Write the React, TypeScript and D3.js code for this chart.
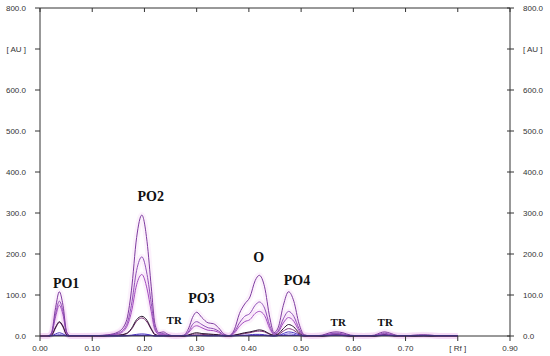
import React from "react";
import * as d3 from "d3";

// Rf sampling grid shared by all traces
const rfGrid = [
  0.0, 0.015, 0.022, 0.03, 0.037, 0.044, 0.051, 0.058, 0.08, 0.11,
  0.13, 0.15, 0.165, 0.175, 0.185, 0.195, 0.205, 0.213, 0.22, 0.228,
  0.236, 0.245, 0.26, 0.275, 0.285, 0.292, 0.3, 0.31, 0.322, 0.332,
  0.342, 0.352, 0.362, 0.372, 0.382, 0.392, 0.402, 0.412, 0.42, 0.43,
  0.44, 0.448, 0.456, 0.466, 0.476, 0.486, 0.496, 0.506, 0.52, 0.54,
  0.555, 0.567, 0.58, 0.595, 0.62, 0.64, 0.652, 0.66, 0.67, 0.685,
  0.7, 0.715, 0.735, 0.75, 0.765, 0.8,
];

const trace1 = [
  0, 0, 8, 70, 108, 75, 10, 0, 0, 1,
  3, 10, 35, 110, 240, 295, 230, 120, 30, 8,
  10, 4, 0, 2, 20, 45, 58, 45, 32, 30,
  20, 5, 1, 15, 55, 78, 95, 135, 148, 120,
  45, 8, 20, 75, 108, 85, 30, 3, 0, 2,
  8, 10, 8, 2, 0, 2, 8, 10, 7, 1,
  0, 2, 3, 2, 0, 0,
];
const trace2 = [
  0, 0, 6, 55, 85, 60, 8, 0, 0, 1,
  2, 7, 25, 75, 160, 193, 150, 80, 20, 5,
  6, 2, 0, 1, 12, 28, 35, 28, 20, 18,
  12, 3, 1, 10, 32, 48, 55, 75, 83, 68,
  25, 5, 12, 42, 60, 48, 18, 2, 0, 1,
  5, 7, 5, 1, 0, 1, 5, 7, 4, 1,
  0, 1, 2, 1, 0, 0,
];
const trace3 = [
  0, 0, 5, 48, 75, 52, 7, 0, 0, 0,
  2, 5, 20, 58, 125, 150, 115, 60, 15, 4,
  4, 1, 0, 1, 9, 20, 25, 20, 14, 13,
  9, 2, 0, 7, 24, 35, 40, 55, 60, 50,
  18, 4, 9, 32, 45, 36, 13, 1, 0, 1,
  4, 5, 4, 1, 0, 1, 4, 5, 3, 0,
  0, 1, 1, 1, 0, 0,
];
const trace4 = [
  0, 0, 2, 22, 35, 24, 3, 0, 0, 0,
  1, 2, 6, 18, 40, 48, 38, 18, 4, 1,
  2, 1, 0, 0, 3, 6, 8, 6, 5, 4,
  3, 1, 0, 2, 5, 8, 10, 13, 15, 12,
  5, 2, 5, 18, 28, 22, 8, 1, 0, 0,
  2, 3, 2, 0, 0, 0, 2, 3, 2, 0,
  0, 0, 1, 0, 0, 0,
];
const trace5 = [
  0, 0, 2, 20, 33, 22, 3, 0, 0, 0,
  1, 2, 5, 16, 36, 44, 34, 16, 3, 1,
  1, 0, 0, 0, 2, 4, 5, 4, 3, 3,
  2, 1, 0, 2, 4, 6, 8, 11, 12, 10,
  4, 1, 3, 12, 18, 14, 5, 0, 0, 0,
  1, 2, 1, 0, 0, 0, 1, 2, 1, 0,
  0, 0, 0, 0, 0, 0,
];
const trace6 = [
  0, 0, 1, 5, 8, 5, 1, 0, 0, 0,
  0, 0, 1, 2, 4, 5, 4, 2, 0, 0,
  0, 0, 0, 0, 1, 1, 2, 1, 1, 1,
  1, 0, 0, 1, 2, 2, 3, 4, 4, 3,
  1, 0, 1, 6, 10, 8, 3, 0, 0, 0,
  3, 5, 3, 0, 0, 0, 3, 4, 2, 0,
  0, 0, 1, 0, 0, 0,
];
const trace7 = [
  0, 0, 0, 2, 3, 2, 0, 0, 0, 0,
  0, 0, 0, 1, 2, 2, 2, 1, 0, 0,
  0, 0, 0, 0, 0, 1, 1, 1, 0, 0,
  0, 0, 0, 0, 1, 1, 1, 2, 2, 1,
  0, 0, 1, 3, 5, 4, 1, 0, 0, 0,
  1, 2, 1, 0, 0, 0, 1, 2, 1, 0,
  0, 0, 0, 0, 0, 0,
];

const traces = [trace7, trace6, trace5, trace4, trace3, trace2, trace1];
const traceColors = ["#6a50d8", "#4a32c0", "#7a2c72", "#2a1430", "#a34cc0", "#9050b8", "#7e3ca0"];

const xTicks = [0, 0.1, 0.2, 0.3, 0.4, 0.5, 0.6, 0.7, 0.8, 0.9];
const xTickLabels = ["0.00", "0.10", "0.20", "0.30", "0.40", "0.50", "0.60", "0.70", "[ Rf ]", "0.90"];
const yTicks = [0, 100, 200, 300, 400, 500, 600, 700, 800];
const yTickLabels = ["0.0", "100.0", "200.0", "300.0", "400.0", "500.0", "600.0", "[ AU ]", "800.0"];

const peakLabels = ["PO1", "PO2", "TR", "PO3", "O", "PO4", "TR", "TR"];
const peakRf = [0.05, 0.212, 0.257, 0.309, 0.419, 0.492, 0.571, 0.661];
const peakValue = [118, 330, 30, 80, 180, 125, 24, 25];
const peakBig = [true, true, false, true, true, true, false, false];

export default function App() {
  const W = 550;
  const H = 356;
  const x = d3.scaleLinear().domain([0, 0.9]).range([40, 510]);
  const y = d3.scaleLinear().domain([0, 800]).range([336, 8]);

  const line = d3
    .line<number>()
    .x((_, i) => x(rfGrid[i]))
    .y((d) => y(d))
    .curve(d3.curveMonotoneX);

  const axisColor = "#333";
  const tickFont = { fontFamily: "Liberation Sans, Arial, sans-serif", fontSize: 8, fill: "#333" };

  return (
    <svg width={W} height={H} style={{ position: "absolute", left: 0, top: 0, background: "#fff" }}>
      <rect x={0} y={0} width={W} height={H} fill="#fff" />
      {/* glow */}
      {traces.slice(4).map((t, i) => (
        <path key={"g" + i} d={line(t) || ""} fill="none" stroke="#e070e0" strokeOpacity={0.09} strokeWidth={6} />
      ))}
      {traces.map((t, i) => (
        <path key={"l" + i} d={line(t) || ""} fill="none" stroke={traceColors[i]} strokeWidth={1} />
      ))}
      {/* baseline blue */}
      <line x1={x(0.015)} x2={x(0.8)} y1={y(0) - 0.5} y2={y(0) - 0.5} stroke="#4a32c0" strokeWidth={1} />

      {/* frame */}
      <line x1={x(0)} x2={x(0.9)} y1={y(800)} y2={y(800)} stroke={axisColor} strokeWidth={1} />
      <line x1={x(0)} x2={x(0.9)} y1={y(0)} y2={y(0)} stroke={axisColor} strokeWidth={1} />
      <line x1={x(0)} x2={x(0)} y1={y(800)} y2={y(0)} stroke={axisColor} strokeWidth={1} />
      <line x1={x(0.9)} x2={x(0.9)} y1={y(800)} y2={y(0)} stroke={axisColor} strokeWidth={1} />

      {xTicks.map((t, i) => (
        <g key={"xt" + i}>
          <line x1={x(t)} x2={x(t)} y1={y(0)} y2={y(0) + 5} stroke={axisColor} />
          <line x1={x(t)} x2={x(t)} y1={y(800)} y2={y(800) + 4} stroke={axisColor} />
          <text x={x(t)} y={y(0) + 15} textAnchor="middle" {...tickFont}>
            {xTickLabels[i]}
          </text>
        </g>
      ))}
      {yTicks.map((t, i) => (
        <g key={"yt" + i}>
          <line x1={x(0) - 5} x2={x(0)} y1={y(t)} y2={y(t)} stroke={axisColor} />
          <line x1={x(0.9) - 3} x2={x(0.9) + 4} y1={y(t)} y2={y(t)} stroke={axisColor} />
          <text x={26} y={y(t) + 3} textAnchor="end" {...tickFont}>
            {yTickLabels[i]}
          </text>
          <text x={523} y={y(t) + 3} textAnchor="start" {...tickFont}>
            {yTickLabels[i]}
          </text>
        </g>
      ))}

      {peakLabels.map((p, i) => (
        <text
          key={"p" + i}
          x={x(peakRf[i])}
          y={y(peakValue[i])}
          textAnchor="middle"
          fontFamily="Liberation Serif, Times New Roman, serif"
          fontWeight="bold"
          fontSize={peakBig[i] ? 14 : 11}
          fill="#111"
        >
          {p}
        </text>
      ))}
    </svg>
  );
}
